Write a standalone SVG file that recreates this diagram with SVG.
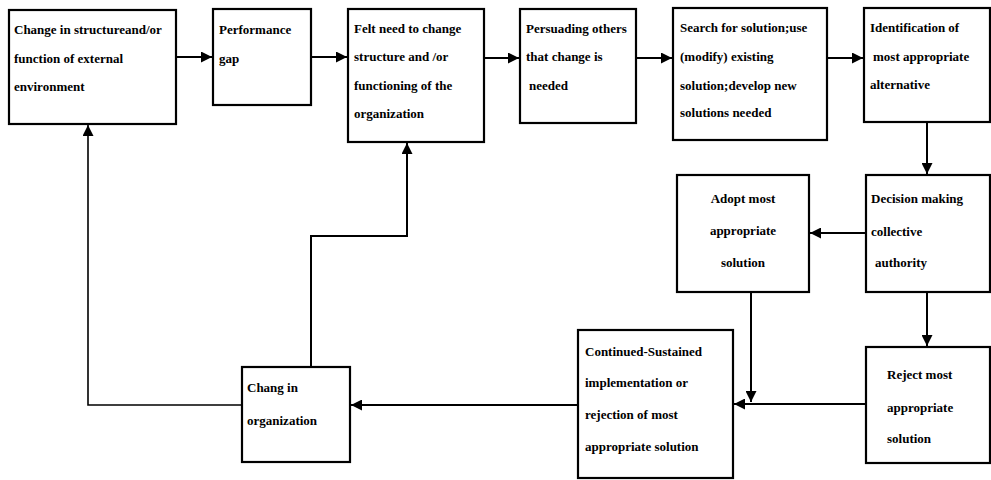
<svg xmlns="http://www.w3.org/2000/svg" width="991" height="480" viewBox="0 0 991 480">
<defs>
<style>
.box{fill:#fff;stroke:#000;stroke-width:2.2}
.t{font-family:"Liberation Serif","Times New Roman",serif;font-weight:bold;font-size:13px;fill:#000}
.c{text-anchor:middle}
.ln{fill:none;stroke:#000;stroke-width:2}
</style>
<marker id="ah" viewBox="0 0 10 10" refX="10" refY="5" markerWidth="11" markerHeight="11" markerUnits="userSpaceOnUse" orient="auto">
<path d="M0,0 L10,5 L0,10 Z" fill="#000"/>
</marker>
</defs>
<rect width="991" height="480" fill="#fff"/>
<g id="connectors">
<line class="ln" x1="176" y1="57" x2="212" y2="57" marker-end="url(#ah)"/>
<line class="ln" x1="311" y1="57" x2="347" y2="57" marker-end="url(#ah)"/>
<line class="ln" x1="484" y1="58" x2="519" y2="58" marker-end="url(#ah)"/>
<line class="ln" x1="636" y1="58" x2="672" y2="58" marker-end="url(#ah)"/>
<line class="ln" x1="827" y1="58" x2="863" y2="58" marker-end="url(#ah)"/>
<line class="ln" x1="927" y1="122" x2="927" y2="174" marker-end="url(#ah)"/>
<line class="ln" x1="866" y1="233" x2="810" y2="233" marker-end="url(#ah)"/>
<line class="ln" x1="927" y1="292" x2="927" y2="346" marker-end="url(#ah)"/>
<line class="ln" x1="751" y1="292" x2="751" y2="402" marker-end="url(#ah)"/>
<line class="ln" x1="866" y1="404" x2="734" y2="404" marker-end="url(#ah)"/>
<line class="ln" x1="578" y1="405" x2="351" y2="405" marker-end="url(#ah)"/>
<polyline class="ln" points="311,367 311,236 407,236 407,143" marker-end="url(#ah)"/>
<polyline class="ln" points="242,405 88,405 88,125" marker-end="url(#ah)" style="stroke-width:1.6"/>
</g>
<g id="n1">
<rect class="box" x="9" y="10" width="167" height="114"/>
<text class="t" x="14" y="34">Change in structureand/or</text>
<text class="t" x="14" y="63">function of external</text>
<text class="t" x="14" y="91">environment</text>
</g>
<g id="n2">
<rect class="box" x="213" y="9" width="98" height="96"/>
<text class="t" x="219" y="34">Performance</text>
<text class="t" x="219" y="63">gap</text>
</g>
<g id="n3">
<rect class="box" x="348" y="9" width="136" height="133"/>
<text class="t" x="354" y="33">Felt need to change</text>
<text class="t" x="354" y="61">structure and /or</text>
<text class="t" x="354" y="90">functioning of the</text>
<text class="t" x="354" y="118">organization</text>
</g>
<g id="n4">
<rect class="box" x="520" y="9" width="116" height="114"/>
<text class="t" x="526" y="33">Persuading others</text>
<text class="t" x="526" y="61">that change is</text>
<text class="t" x="529" y="90">needed</text>
</g>
<g id="n5">
<rect class="box" x="673" y="8" width="154" height="132"/>
<text class="t" x="680" y="32">Search for solution;use</text>
<text class="t" x="680" y="61">(modify) existing</text>
<text class="t" x="680" y="90">solution;develop new</text>
<text class="t" x="680" y="117">solutions needed</text>
</g>
<g id="n6">
<rect class="box" x="864" y="8" width="126" height="114"/>
<text class="t" x="870" y="32">Identification of</text>
<text class="t" x="873" y="61">most appropriate</text>
<text class="t" x="870" y="89">alternative</text>
</g>
<g id="n7">
<rect class="box" x="866" y="175" width="124" height="117"/>
<text class="t" x="871" y="203">Decision making</text>
<text class="t" x="871" y="236">collective</text>
<text class="t" x="875" y="267">authority</text>
</g>
<g id="n8">
<rect class="box" x="677" y="175" width="132" height="117"/>
<text class="t c" x="743" y="203">Adopt most</text>
<text class="t c" x="743" y="235">appropriate</text>
<text class="t c" x="743" y="267">solution</text>
</g>
<g id="n9">
<rect class="box" x="866" y="347" width="124" height="116"/>
<text class="t" x="887" y="379">Reject most</text>
<text class="t" x="887" y="412">appropriate</text>
<text class="t" x="887" y="443">solution</text>
</g>
<g id="n10">
<rect class="box" x="578" y="330" width="155" height="148"/>
<text class="t" x="585" y="356">Continued-Sustained</text>
<text class="t" x="585" y="387">implementation or</text>
<text class="t" x="585" y="419">rejection of most</text>
<text class="t" x="585" y="451">appropriate solution</text>
</g>
<g id="n11">
<rect class="box" x="242" y="367" width="108" height="95"/>
<text class="t" x="247" y="392">Chang in</text>
<text class="t" x="247" y="425">organization</text>
</g>
</svg>
